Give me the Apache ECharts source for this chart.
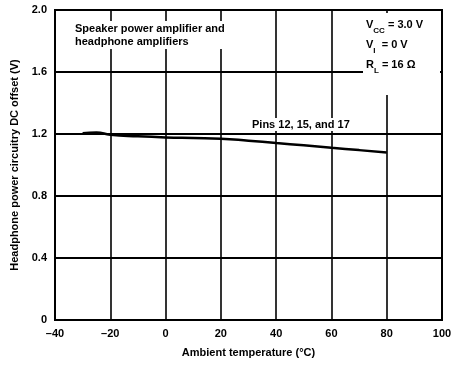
<!DOCTYPE html>
<html><head><meta charset="utf-8">
<script src="https://cdn.jsdelivr.net/npm/echarts@6/dist/echarts.min.js"></script>
<style>html,body{margin:0;padding:0;background:#fff}#c{width:459px;height:365px}</style>
</head><body><div id="c"></div>
<script>
const temps = [-30, -25, -20, -10, 0, 10, 20, 30, 40, 50, 60, 70, 80];
const offset = [1.205, 1.21, 1.195, 1.185, 1.178, 1.174, 1.17, 1.157, 1.142, 1.127, 1.111, 1.096, 1.08];
const xTickValues = [-40, -20, 0, 20, 40, 60, 80, 100];
const yTickLabels = ['0', '0.4', '0.8', '1.2', '1.6', '2.0'];
const seriesLabel = 'Pins 12, 15, and 17';
const noteLines = ['Speaker power amplifier and', 'headphone amplifiers'];

const chart = echarts.init(document.getElementById('c'));
const F = 'Liberation Sans, Arial, sans-serif';
chart.setOption({
  animation: false,
  grid: {left: 55, right: 17, top: 10, bottom: 45, show: true, borderColor: '#000', borderWidth: 2, backgroundColor: '#fff'},
  xAxis: {
    type: 'value', min: -40, max: 100, interval: 20,
    name: 'Ambient temperature (°C)', nameLocation: 'middle', nameGap: 27,
    nameTextStyle: {fontFamily: F, fontSize: 11, fontWeight: 'bold', color: '#000'},
    axisLine: {show: false}, axisTick: {show: false},
    axisLabel: {fontFamily: F, fontSize: 11, fontWeight: 'bold', color: '#000', margin: 8,
      formatter: v => xTickValues.includes(v) ? String(v).replace('-', '–') : ''},
    splitLine: {show: true, lineStyle: {color: '#000', width: 1.6}}
  },
  yAxis: {
    type: 'value', min: 0, max: 2, interval: 0.4,
    name: 'Headphone power circuitry DC offset (V)', nameLocation: 'middle', nameGap: 34,
    nameTextStyle: {fontFamily: F, fontSize: 11, fontWeight: 'bold', color: '#000'},
    axisLine: {show: false}, axisTick: {show: false},
    axisLabel: {fontFamily: F, fontSize: 11, fontWeight: 'bold', color: '#000', margin: 8,
      formatter: v => yTickLabels[Math.round(v / 0.4)]},
    splitLine: {show: true, lineStyle: {color: '#000', width: 2}}
  },
  series: [{
    type: 'line', data: temps.map((t, i) => [t, offset[i]]),
    smooth: true, showSymbol: false, lineStyle: {color: '#000', width: 2.5}
  }],
  graphic: [
    {type: 'text', left: 250, top: 118, z: 10, style: {text: seriesLabel, font: 'bold 11px ' + F, fill: '#000', backgroundColor: '#fff', padding: [1, 2]}},
    {type: 'text', left: 73, top: 21, z: 10, style: {text: noteLines.join('\n'), font: 'bold 11px ' + F, lineHeight: 13, fill: '#000', backgroundColor: '#fff', padding: [1, 2]}},
    {type: 'rect', shape: {x: 363, y: 13, width: 77, height: 82}, style: {fill: '#fff'}, z: 9},
    {type: 'text', left: 366, top: 19, z: 10, style: {
      rich: {n: {font: 'bold 11px ' + F, fill: '#000', lineHeight: 20}, s: {font: 'bold 8px ' + F, fill: '#000', verticalAlign: 'bottom', padding: [6, 0, 0, 0]}},
      text: '{n|V}{s|CC}{n| = 3.0 V}\n{n|V}{s|I}{n|  = 0 V}\n{n|R}{s|L}{n| = 16 Ω}'
    }}
  ]
});
</script></body></html>
